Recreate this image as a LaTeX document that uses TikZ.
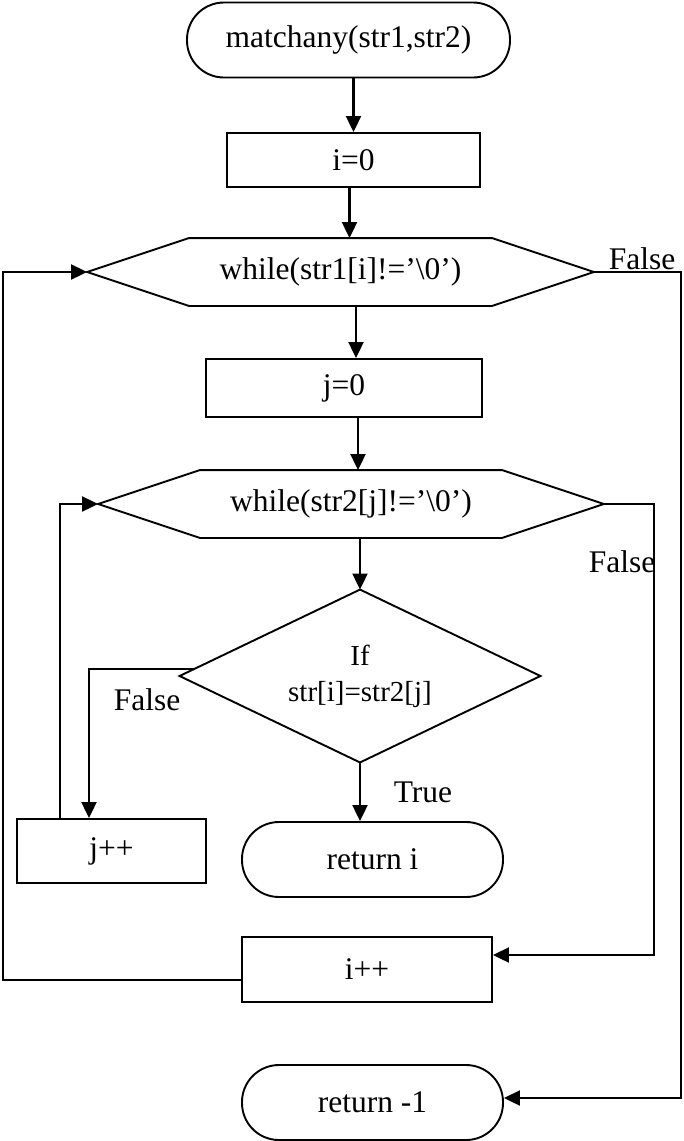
\documentclass[tikz,border=0pt]{standalone}
\usepackage{fontspec}
\setmainfont{Liberation Serif}
\usetikzlibrary{arrows.meta}
\begin{document}
\begin{tikzpicture}[x=1pt,y=-1pt,line width=1.9pt,
  base/.style={font=\fontsize{31.5}{38}\selectfont, inner sep=0pt, align=center},
  term/.style={base, draw, rounded corners=37pt, minimum height=75pt},
  proc/.style={base, draw},
  lbl/.style={base},
  arr/.style={-{Triangle[length=16pt,width=15pt]}, line width=2.1pt}]
\useasboundingbox (0,0) rectangle (683,1141);

% blocks
\node[term, minimum width=323pt] (start) at (348.5,40) {matchany(str1,str2)};
\node[proc, minimum width=253pt, minimum height=54pt] (i0) at (353.5,160) {i=0};

\node[base, minimum width=505pt, minimum height=66pt] (w1) at (340.5,272) {while(str1[i]!='\textbackslash0')};
\draw (w1.west) -- ([xshift=102pt]w1.north west) -- ([xshift=-102pt]w1.north east)
      -- (w1.east) -- ([xshift=-102pt]w1.south east) -- ([xshift=102pt]w1.south west) -- cycle;

\node[proc, minimum width=276pt, minimum height=58pt] (j0) at (344,388) {j=0};

\node[base, minimum width=504pt, minimum height=66pt] (w2) at (351,504) {while(str2[j]!='\textbackslash0')};
\draw (w2.west) -- ([xshift=102pt]w2.north west) -- ([xshift=-102pt]w2.north east)
      -- (w2.east) -- ([xshift=-102pt]w2.south east) -- ([xshift=102pt]w2.south west) -- cycle;

\node[base, font=\fontsize{29}{36}\selectfont, minimum width=359pt, minimum height=171pt] (d) at (360,676) {If\\str[i]=str2[j]};
\draw (d.north) -- (d.east) -- (d.south) -- (d.west) -- cycle;

\node[proc, minimum width=189pt, minimum height=64pt] (jpp) at (111.5,851) {j++};
\node[term, minimum width=261pt] (ri) at (372.5,859.5) {return i};
\node[proc, minimum width=250pt, minimum height=65pt] (ipp) at (367,969.5) {i++};
\node[term, minimum width=261pt] (rm1) at (372.5,1102.5) {return -1};

% labels
\node[lbl] (f1) at (642,259) {False};
\node[lbl] (f2) at (622,562) {False};
\node[lbl] (f3) at (147,700) {False};
\node[lbl] (t1) at (423,792) {True};

% main flow
\draw[arr] (start.south -| i0.north) -- (i0.north);
\draw[arr] ([xshift=-4pt]i0.south) -- ([xshift=-4pt]i0.south |- w1.north);
\draw[arr] ([xshift=15.5pt]w1.south) -- ([xshift=15.5pt]w1.south |- j0.north);
\draw[arr] ([xshift=14pt]j0.south) -- ([xshift=14pt]j0.south |- w2.north);
\draw[arr] (w2.south -| d.north) -- (d.north);
\draw[arr] (d.south) -- (d.south |- ri.north);

% inner loop
\draw[arr] ([xshift=15pt,yshift=7pt]d.west) -| ([xshift=-22.5pt]jpp.north);
\draw[arr] ([xshift=-51.5pt]jpp.north) |- (w2.west);
\draw[arr] (w2.east) -- ++(50,0) |- ([yshift=14.5pt]ipp.east);

% outer loop
\draw[arr] ([yshift=-10.5pt]ipp.west) -- ++(-238,0) |- (w1.west);
\draw[arr] (w1.east) -- ++(87,0) |- ([yshift=4.5pt]rm1.east);
\end{tikzpicture}
\end{document}
